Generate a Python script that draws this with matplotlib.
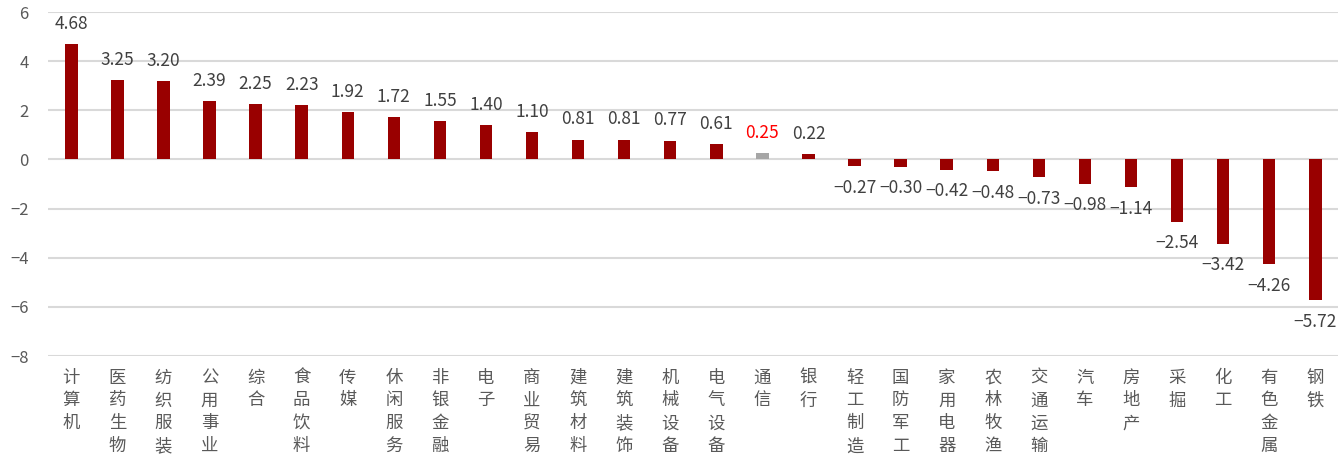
import matplotlib.pyplot as plt

plt.rcParams['font.family'] = ['Noto Sans CJK SC', 'DejaVu Sans']

categories = ['计算机', '医药生物', '纺织服装', '公用事业', '综合', '食品饮料', '传媒',
              '休闲服务', '非银金融', '电子', '商业贸易', '建筑材料', '建筑装饰', '机械设备',
              '电气设备', '通信', '银行', '轻工制造', '国防军工', '家用电器', '农林牧渔',
              '交通运输', '汽车', '房地产', '采掘', '化工', '有色金属', '钢铁']
values = [4.68, 3.25, 3.20, 2.39, 2.25, 2.23, 1.92, 1.72, 1.55, 1.40, 1.10, 0.81, 0.81, 0.77,
          0.61, 0.25, 0.22, -0.27, -0.30, -0.42, -0.48, -0.73, -0.98, -1.14, -2.54, -3.42,
          -4.26, -5.72]
highlight = '通信'

def main():
    fig = plt.figure(figsize=(13.41, 4.63), dpi=100)
    ax = fig.add_axes([0.036, 0.231, 0.962, 0.743])

    x = list(range(len(categories)))
    colors = ['#a6a6a6' if c == highlight else '#990000' for c in categories]
    ax.bar(x, values, width=0.27, color=colors, zorder=3)

    for xi, v, c in zip(x, values, categories):
        col = '#ff0000' if c == highlight else '#404040'
        off = 8 if v >= 0 else -9
        va = 'bottom' if v >= 0 else 'top'
        ax.annotate(f'{v:.2f}'.replace('-', '\u2212'), (xi, v), xytext=(0, off),
                    textcoords='offset points', ha='center', va=va, fontsize=12.5,
                    color=col, fontweight='medium')

    ax.set_xlim(-0.5, len(categories) - 0.5)
    ax.set_ylim(-8, 6)
    ax.set_yticks(range(-8, 7, 2))
    ax.set_xticks(x)
    ax.set_xticklabels(['\n'.join(c) for c in categories], fontsize=12.5, color='#595959',
                       va='top', linespacing=1.35)
    ax.tick_params(axis='both', length=0)
    ax.tick_params(axis='y', labelsize=12, labelcolor='#595959', pad=14)
    ax.tick_params(axis='x', pad=9)
    ax.grid(axis='y', color='#d9d9d9', linewidth=1.5, zorder=0)
    for s in ax.spines.values():
        s.set_visible(False)

    fig.savefig('out.png', dpi=100)

if __name__ == "__main__":
    main()
